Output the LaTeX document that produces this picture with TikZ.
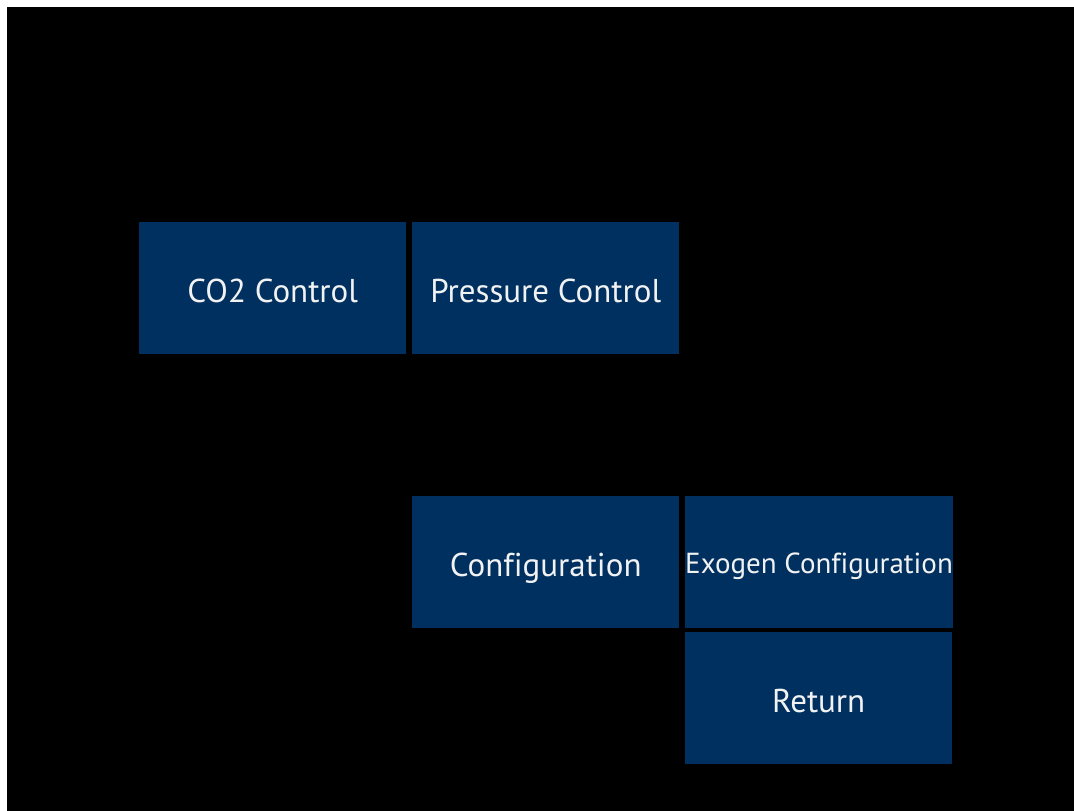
\documentclass[tikz,border=0pt]{standalone}
\usepackage{fontspec}
\setmainfont[Ligatures=NoCommon]{PT Sans}
\definecolor{btn}{HTML}{003060}
\definecolor{txt}{HTML}{F2F2F2}
\begin{document}
\begin{tikzpicture}[x=1pt,y=-1pt,
  btnbox/.style={fill=btn,draw=none,text=txt,inner sep=0pt,minimum width=267pt,minimum height=132pt,anchor=north west,font=\fontsize{33}{36}\selectfont,text height=29pt,text depth=0pt},
  smallbtn/.style={btnbox,font=\fontsize{29}{32}\selectfont,text height=22pt}]
\useasboundingbox (0,0) rectangle (1074,811);
\fill[white] (0,0) rectangle (1074,811);
\fill[black] (7,7) rectangle (1074,811);
\node[btnbox] (co2) at (139,222) {CO2 Control};
\node[btnbox] (press) at (412,222) {Pressure Control};
\node[btnbox] (conf) at (412,496) {Configuration};
\node[smallbtn] (exo) at (685,496) {Exogen Configuration};
\node[btnbox] (ret) at (685,632) {Return};
\end{tikzpicture}
\end{document}
